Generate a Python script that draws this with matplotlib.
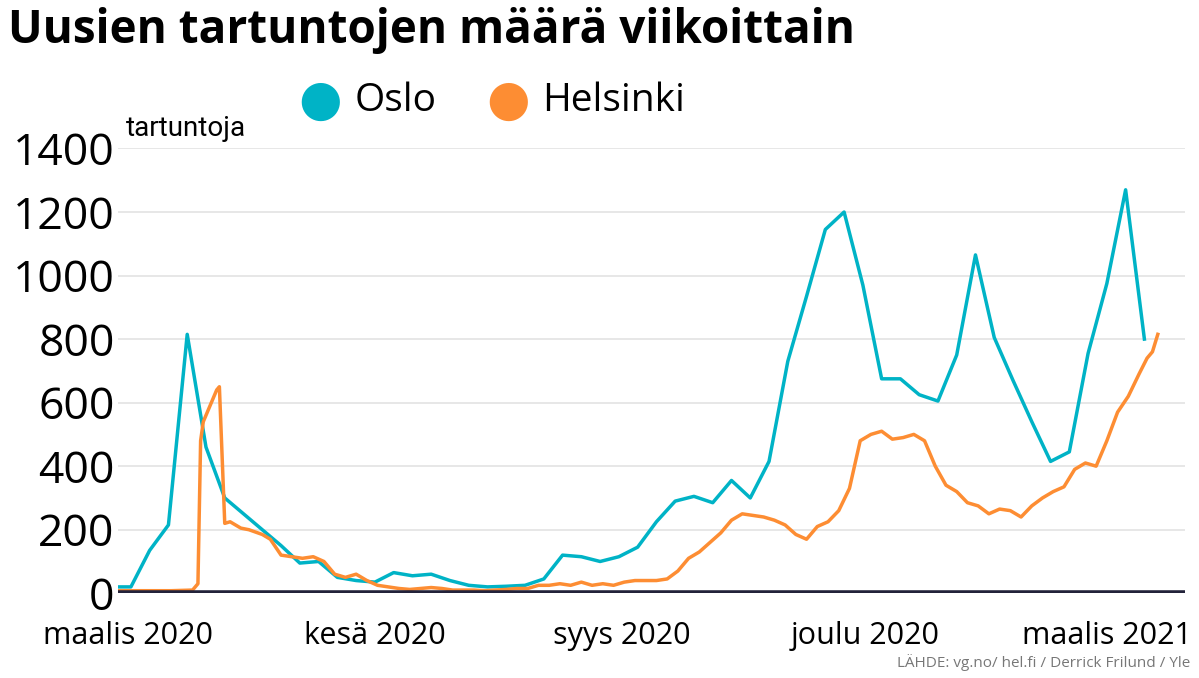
import matplotlib
matplotlib.use("Agg")
import matplotlib.pyplot as plt
from datetime import date, timedelta

start = date(2020, 2, 24)
oslo_values = [20, 20, 135, 215, 815, 460, 300, 250, 200, 150, 95, 100, 50, 40, 35, 65, 55, 60, 40,
               25, 20, 22, 25, 45, 120, 115, 100, 115, 145, 225, 290, 305, 285, 355, 300, 415, 730,
               935, 1145, 1200, 970, 675, 675, 625, 605, 750, 1065, 805, 670, 540, 415, 445, 755,
               975, 1270, 800]
helsinki_days = [0, 10, 20, 28, 30, 31, 32, 35, 37, 38, 40, 42, 46, 49, 54, 57, 61, 65, 69, 73, 77, 81,
                 85, 89, 93, 97, 101, 105, 109, 113, 117, 121, 125, 129, 133, 137, 141, 145, 149, 153,
                 157, 161, 165, 169, 173, 177, 181, 185, 189, 193, 197, 201, 205, 209, 213, 217, 221,
                 225, 229, 233, 237, 241, 245, 249, 253, 257, 261, 265, 269, 273, 277, 281, 285, 289,
                 293, 297, 301, 305, 309, 313, 317, 321, 325, 329, 333, 337, 341, 345, 349, 353, 357,
                 361, 365, 369, 373, 377, 381, 384, 386, 388]
helsinki_values = [8, 8, 8, 10, 30, 480, 540, 600, 640, 650, 220, 225, 205, 200, 185, 170, 120, 115, 110,
                   115, 100, 60, 50, 60, 40, 25, 20, 15, 12, 15, 18, 15, 10, 10, 10, 8, 10, 12, 15, 15,
                   25, 25, 30, 25, 35, 25, 30, 25, 35, 40, 40, 40, 45, 70, 110, 130, 160, 190, 230, 250,
                   245, 240, 230, 215, 185, 170, 210, 225, 260, 330, 480, 500, 510, 485, 490, 500, 480,
                   400, 340, 320, 285, 275, 250, 265, 260, 240, 275, 300, 320, 335, 390, 410, 400, 480,
                   570, 620, 690, 740, 760, 815]
n = min(len(helsinki_days), len(helsinki_values))
helsinki_days, helsinki_values = helsinki_days[:n], helsinki_values[:n]
x_ticks = [date(2020, 3, 1), date(2020, 6, 1), date(2020, 9, 1), date(2020, 12, 1), date(2021, 3, 1)]
x_labels = ["maalis 2020", "kesä 2020", "syys 2020", "joulu 2020", "maalis 2021"]
y_ticks = [0, 200, 400, 600, 800, 1000, 1200, 1400]

oslo_dates = [start + timedelta(days=7 * i) for i in range(len(oslo_values))]
hel_dates = [date(2020, 2, 26) + timedelta(days=d) for d in helsinki_days]

OSLO = "#00b3c6"
HEL = "#fd8d33"
fig = plt.figure(figsize=(11.99, 6.78), dpi=100)
ax = fig.add_axes([0.098, 0.125, 0.89, 0.656])
ax.plot(hel_dates, helsinki_values, color=HEL, lw=2.5, zorder=3)
ax.plot(oslo_dates, oslo_values, color=OSLO, lw=2.5, zorder=2)
ax.set_xlim(date(2020, 2, 26), date(2021, 3, 30))
ax.set_ylim(0, 1400)
ax.set_yticks(y_ticks)
ax.set_yticklabels([str(v) for v in y_ticks], fontsize=32, fontfamily="Open Sans")
ax.set_xticks(x_ticks)
ax.set_xticklabels(x_labels, fontsize=22, fontfamily="Open Sans")
ax.tick_params(axis="x", length=0, pad=20)
ax.tick_params(axis="y", length=0, pad=2)
ax.grid(axis="y", color="#e3e3e3", lw=1.2)
ax.set_axisbelow(True)
for s in ax.spines.values():
    s.set_visible(False)
ax.axhline(0, color="#22223a", lw=4, zorder=4)
ax.text(0.008, 1.015, "tartuntoja", transform=ax.transAxes, fontsize=20, fontfamily="Roboto",
        ha="left", va="bottom", fontstretch="condensed")

fig.text(0.007, 0.955, "Uusien tartuntojen määrä viikoittain", fontsize=33, fontweight="bold",
         fontfamily="Open Sans", va="center")
fig.text(0.267, 0.852, "●", color=OSLO, fontsize=36, va="center", ha="center")
fig.text(0.296, 0.852, "Oslo", fontsize=28, fontfamily="Open Sans", va="center")
fig.text(0.424, 0.852, "●", color=HEL, fontsize=36, va="center", ha="center")
fig.text(0.452, 0.852, "Helsinki", fontsize=28, fontfamily="Open Sans", va="center")
fig.text(0.993, 0.01, "LÄHDE: vg.no/ hel.fi / Derrick Frilund / Yle", fontsize=11, color="#777777",
         fontfamily="Open Sans", ha="right", va="bottom")
fig.savefig("out.png", dpi=100)
